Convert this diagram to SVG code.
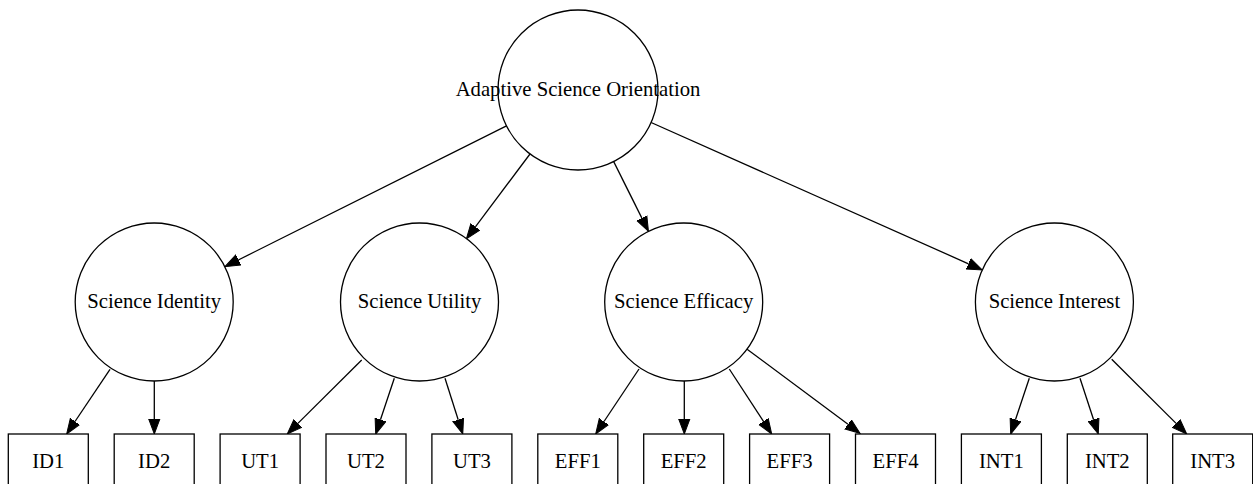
<svg xmlns="http://www.w3.org/2000/svg" width="1253" height="484" viewBox="0 0 1253 484">
<style>
.n{fill:#fff;stroke:#000;stroke-width:1.3}
.t{font-family:"Liberation Serif","Times New Roman",serif;font-size:20.7px;text-anchor:middle;fill:#000}
.e{stroke:#000;stroke-width:1.3;fill:none;marker-end:url(#ah)}
</style>
<defs>
<marker id="ah" markerUnits="userSpaceOnUse" markerWidth="17" markerHeight="14" viewBox="0 -7 17 14" refX="0" refY="0" orient="auto">
<path d="M0,-5.6 L15,0 L0,5.6 z" fill="#000" stroke="#000" stroke-width="1"/>
</marker>
</defs>
<rect width="1253" height="484" fill="#fff"/>
<g id="connectors">
<line class="e" x1="506.5" y1="125.8" x2="238.3" y2="260"/>
<line class="e" x1="530" y1="154" x2="475.4" y2="226.8"/>
<line class="e" x1="613.7" y1="161.6" x2="641.76" y2="217.9"/>
<line class="e" x1="651.1" y1="122.5" x2="968.5" y2="263.8"/>
<line class="e" x1="110" y1="369.3" x2="75" y2="421.5"/>
<line class="e" x1="154.3" y1="381" x2="154.3" y2="419"/>
<line class="e" x1="361.7" y1="360" x2="297.9" y2="423.4"/>
<line class="e" x1="394.3" y1="378.3" x2="380.45" y2="419.8"/>
<line class="e" x1="445" y1="378.3" x2="458.2" y2="419.7"/>
<line class="e" x1="639" y1="369" x2="604" y2="421.5"/>
<line class="e" x1="684.3" y1="381" x2="684.3" y2="419"/>
<line class="e" x1="729.3" y1="369" x2="763.5" y2="421.4"/>
<line class="e" x1="747.1" y1="349.2" x2="848" y2="424.35"/>
<line class="e" x1="1029.3" y1="378.3" x2="1015.45" y2="419.8"/>
<line class="e" x1="1080" y1="378.3" x2="1093.6" y2="419.75"/>
<line class="e" x1="1111.7" y1="359.3" x2="1176.1" y2="423.4"/>
</g>
<g id="aso"><circle class="n" cx="578" cy="90" r="80"/><text class="t" x="578" y="96.3">Adaptive Science Orientation</text></g>
<g id="identity"><circle class="n" cx="154.2" cy="302" r="79"/><text class="t" x="154.2" y="308.3">Science Identity</text></g>
<g id="utility"><circle class="n" cx="419.5" cy="302" r="79"/><text class="t" x="419.5" y="308.3">Science Utility</text></g>
<g id="efficacy"><circle class="n" cx="683.7" cy="302" r="79"/><text class="t" x="683.7" y="308.3">Science Efficacy</text></g>
<g id="interest"><circle class="n" cx="1054.4" cy="302" r="79"/><text class="t" x="1054.4" y="308.3">Science Interest</text></g>
<g id="ID1"><rect class="n" x="8.3" y="434" width="80" height="56"/><text class="t" x="48.3" y="468.3">ID1</text></g>
<g id="ID2"><rect class="n" x="114.2" y="434" width="80" height="56"/><text class="t" x="154.2" y="468.3">ID2</text></g>
<g id="UT1"><rect class="n" x="220.1" y="434" width="80" height="56"/><text class="t" x="260.1" y="468.3">UT1</text></g>
<g id="UT2"><rect class="n" x="326" y="434" width="80" height="56"/><text class="t" x="366" y="468.3">UT2</text></g>
<g id="UT3"><rect class="n" x="431.9" y="434" width="80" height="56"/><text class="t" x="471.9" y="468.3">UT3</text></g>
<g id="EFF1"><rect class="n" x="537.8" y="434" width="80" height="56"/><text class="t" x="577.8" y="468.3">EFF1</text></g>
<g id="EFF2"><rect class="n" x="643.7" y="434" width="80" height="56"/><text class="t" x="683.7" y="468.3">EFF2</text></g>
<g id="EFF3"><rect class="n" x="749.6" y="434" width="80" height="56"/><text class="t" x="789.6" y="468.3">EFF3</text></g>
<g id="EFF4"><rect class="n" x="855.5" y="434" width="80" height="56"/><text class="t" x="895.5" y="468.3">EFF4</text></g>
<g id="INT1"><rect class="n" x="961.4" y="434" width="80" height="56"/><text class="t" x="1001.4" y="468.3">INT1</text></g>
<g id="INT2"><rect class="n" x="1067.3" y="434" width="80" height="56"/><text class="t" x="1107.3" y="468.3">INT2</text></g>
<g id="INT3"><rect class="n" x="1172.7" y="434" width="80" height="56"/><text class="t" x="1212.7" y="468.3">INT3</text></g>
</svg>
